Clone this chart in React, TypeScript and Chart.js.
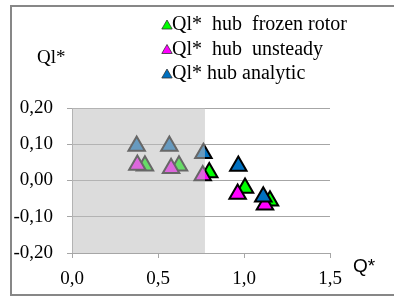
import React, { useEffect, useRef } from "react";
import { Chart, registerables } from "chart.js";

Chart.register(...registerables);

const frozenX = [0.424, 0.622, 0.798, 1.006, 1.151];
const frozenY = [0.041, 0.041, 0.022, -0.021, -0.056];
const unsteadyX = [0.38, 0.576, 0.76, 0.963, 1.122];
const unsteadyY = [0.043, 0.034, 0.014, -0.037, -0.067];
const analyticX = [0.376, 0.566, 0.764, 0.967, 1.112];
const analyticY = [0.095, 0.095, 0.075, 0.04, -0.045];

const seriesLabels = ["Ql*  hub  frozen rotor", "Ql*  hub  unsteady", "Ql* hub analytic"];
const seriesColors = ["#00ff00", "#ff00ff", "#0070c0"];

const xTicks = [0, 0.5, 1.0, 1.5];
const xTickLabels = ["0,0", "0,5", "1,0", "1,5"];
const yTicks = [-0.2, -0.1, 0, 0.1, 0.2];
const yTickLabels = ["-0,20", "-0,10", "0,00", "0,10", "0,20"];

const shadeXMax = 0.773;
const yTitle = "Ql*";
const xTitle = "Q*";

const SERIF = "Liberation Serif";
const SANS = "Liberation Sans";

function pts(xs: number[], ys: number[]) {
  return xs.map((x, i) => ({ x, y: ys[i] }));
}

const decorPlugin = {
  id: "decor",
  beforeDraw(chart: any) {
    const ctx = chart.ctx;
    ctx.save();
    ctx.fillStyle = "#ffffff";
    ctx.fillRect(0, 0, chart.width, chart.height);
    ctx.strokeStyle = "#878787";
    ctx.lineWidth = 2;
    ctx.strokeRect(11, 6, chart.width + 20, 289);
    ctx.restore();
  },
  afterDatasetsDraw(chart: any) {
    const ctx = chart.ctx;
    const xs = chart.scales.x;
    const ys = chart.scales.y;
    const x0 = xs.getPixelForValue(0);
    const x1 = xs.getPixelForValue(shadeXMax);
    const y0 = ys.getPixelForValue(0.2);
    const y1 = ys.getPixelForValue(-0.2);
    ctx.save();
    ctx.fillStyle = "rgba(190,190,190,0.54)";
    ctx.fillRect(x0, y0, x1 - x0, y1 - y0);
    ctx.restore();
  },
  afterDraw(chart: any) {
    const ctx = chart.ctx;
    ctx.save();
    ctx.fillStyle = "#000";
    ctx.textBaseline = "alphabetic";
    ctx.textAlign = "left";
    ctx.font = `19px ${SERIF}`;
    ctx.fillText(yTitle, 37, 63);
    ctx.font = `19px ${SANS}`;
    ctx.fillText(xTitle, 353, 272);
    const ds = chart.data.datasets;
    ctx.font = `20px ${SERIF}`;
    for (let i = 0; i < ds.length; i++) {
      const base = 30 + i * 24.5;
      const cx = 167;
      const r = 6;
      const cy = base - 4;
      ctx.beginPath();
      ctx.moveTo(cx, cy - r);
      ctx.lineTo(cx + r * 0.866, cy + r / 2);
      ctx.lineTo(cx - r * 0.866, cy + r / 2);
      ctx.closePath();
      ctx.fillStyle = ds[i].backgroundColor;
      ctx.fill();
      ctx.strokeStyle = "#333";
      ctx.lineWidth = 0.8;
      ctx.stroke();
      ctx.fillStyle = "#000";
      ctx.fillText(ds[i].label, 172, base);
    }
    ctx.restore();
  },
};

export default function App() {
  const ref = useRef<HTMLCanvasElement>(null);
  useEffect(() => {
    if (!ref.current) return;
    const mk = (i: number, xs: number[], ys: number[], order: number) => ({
      label: seriesLabels[i],
      data: pts(xs, ys),
      backgroundColor: seriesColors[i],
      borderColor: "#000000",
      borderWidth: 2,
      pointStyle: "triangle",
      pointRadius: 9.5,
      order,
    });
    const chart = new Chart(ref.current, {
      type: "scatter",
      data: {
        datasets: [
          mk(0, frozenX, frozenY, 3),
          mk(1, unsteadyX, unsteadyY, 2),
          mk(2, analyticX, analyticY, 1),
        ],
      },
      options: {
        animation: false,
        responsive: false,
        events: [],
        layout: { padding: { left: 0, right: 64, top: 108, bottom: 0 } },
        plugins: { legend: { display: false }, tooltip: { enabled: false } },
        scales: {
          x: {
            type: "linear",
            min: 0,
            max: 1.5,
            afterBuildTicks: (s: any) => {
              s.ticks = xTicks.map((v) => ({ value: v }));
            },
            afterFit: (s: any) => {
              s.height = 49;
            },
            grid: {
              drawOnChartArea: false,
              drawTicks: true,
              tickLength: 5,
              color: "#a6a6a6",
            },
            border: { color: "#a6a6a6", width: 1 },
            ticks: {
              padding: 10,
              color: "#000",
              font: { family: SERIF, size: 19 },
              callback: (_v: any, i: number) => xTickLabels[i],
              maxRotation: 0,
            },
          },
          y: {
            type: "linear",
            min: -0.2,
            max: 0.2,
            afterBuildTicks: (s: any) => {
              s.ticks = yTicks.map((v) => ({ value: v }));
            },
            afterFit: (s: any) => {
              s.width = 72;
            },
            grid: {
              drawOnChartArea: true,
              drawTicks: true,
              tickLength: 5,
              color: "#a6a6a6",
            },
            border: { color: "#a6a6a6", width: 1 },
            ticks: {
              padding: 14,
              color: "#000",
              font: { family: SERIF, size: 19 },
              callback: (_v: any, i: number) => yTickLabels[i],
            },
          },
        },
      },
      plugins: [decorPlugin],
    } as any);
    return () => chart.destroy();
  }, []);
  return (
    <div style={{ position: "absolute", left: 0, top: 0, width: 394, height: 302 }}>
      <canvas ref={ref} width={394} height={302} style={{ display: "block" }} />
    </div>
  );
}
